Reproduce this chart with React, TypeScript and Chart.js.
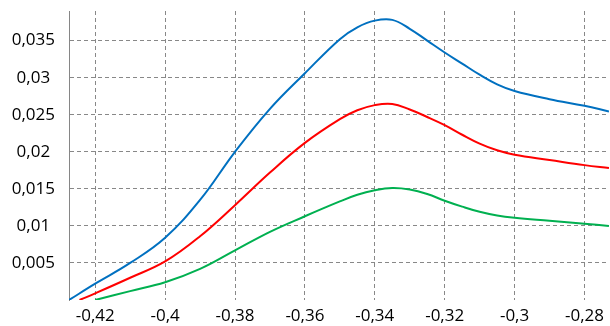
import React, { useEffect, useRef } from "react";
import { Chart, registerables } from "chart.js";

Chart.register(...registerables);

const blueX = [-0.4275, -0.42, -0.41, -0.40, -0.39, -0.38, -0.37, -0.36, -0.35, -0.345, -0.34, -0.335, -0.33, -0.325, -0.32, -0.315, -0.31, -0.305, -0.30, -0.29, -0.28, -0.273];
const blueY = [0, 0.0022, 0.0050, 0.0084, 0.0135, 0.0200, 0.0258, 0.0306, 0.0352, 0.0368, 0.0377, 0.0378, 0.0366, 0.0350, 0.0334, 0.0319, 0.0304, 0.0291, 0.0282, 0.0271, 0.0262, 0.02545];

const redX = [-0.4245, -0.42, -0.41, -0.40, -0.39, -0.38, -0.37, -0.36, -0.35, -0.345, -0.34, -0.335, -0.33, -0.325, -0.32, -0.315, -0.31, -0.305, -0.30, -0.29, -0.28, -0.273];
const redY = [0, 0.0009, 0.0030, 0.0052, 0.0086, 0.0128, 0.0172, 0.0212, 0.0244, 0.0256, 0.0263, 0.02645, 0.0257, 0.0247, 0.0236, 0.0223, 0.0211, 0.0202, 0.0196, 0.0189, 0.0182, 0.0178];

const greenX = [-0.42, -0.41, -0.40, -0.39, -0.38, -0.37, -0.36, -0.35, -0.345, -0.34, -0.335, -0.33, -0.325, -0.32, -0.315, -0.31, -0.305, -0.30, -0.29, -0.28, -0.273];
const greenY = [0, 0.0012, 0.0024, 0.0042, 0.0067, 0.0092, 0.0113, 0.0133, 0.0142, 0.0148, 0.0151, 0.0149, 0.0143, 0.0134, 0.0126, 0.0119, 0.0114, 0.0111, 0.0107, 0.0103, 0.0100];

const xTicks = [-0.42, -0.4, -0.38, -0.36, -0.34, -0.32, -0.3, -0.28];
const yTicks = [0.005, 0.01, 0.015, 0.02, 0.025, 0.03, 0.035];

const xMin = -0.4275;
const xMax = -0.273;
const yMin = 0;
const yMax = 0.039;

const fmt = (v: number) => String(Number(v.toFixed(4))).replace(".", ",");
const pts = (xs: number[], ys: number[]) => xs.map((x, i) => ({ x, y: ys[i] }));

export default function App() {
  const ref = useRef<HTMLCanvasElement | null>(null);
  useEffect(() => {
    if (!ref.current) return;
    const font = { family: "'Open Sans', sans-serif", size: 17 };
    const mk = (data: any, color: string) => ({
      data,
      borderColor: color,
      backgroundColor: color,
      borderWidth: 2,
      pointRadius: 0,
      tension: 0.4,
      fill: false,
    });
    const chart = new Chart(ref.current, {
      type: "line",
      data: {
        datasets: [
          mk(pts(blueX, blueY), "#0070C0"),
          mk(pts(redX, redY), "#FF0000"),
          mk(pts(greenX, greenY), "#00B050"),
        ],
      },
      options: {
        responsive: false,
        animation: false,
        layout: { padding: { top: 0, right: 0, left: 0, bottom: 0 } },
        plugins: { legend: { display: false }, tooltip: { enabled: false } },
        scales: {
          x: {
            type: "linear",
            min: xMin,
            max: xMax,
            afterBuildTicks: (s: any) => {
              s.ticks = xTicks.map((v) => ({ value: v }));
            },
            afterFit: (s: any) => {
              s.height = 26;
            },
            ticks: {
              color: "#000",
              font,
              padding: 6,
              maxRotation: 0,
              autoSkip: false,
              callback: (v: any) => fmt(Number(v)),
            },
            grid: {
              color: "#888888",
              lineWidth: 1,
              drawTicks: false,
            },
            border: { display: false, dash: [4, 3] },
          },
          y: {
            type: "linear",
            min: yMin,
            max: yMax,
            afterBuildTicks: (s: any) => {
              s.ticks = yTicks.map((v) => ({ value: v }));
            },
            afterFit: (s: any) => {
              s.width = 69;
              s.paddingTop = 11;
            },
            ticks: {
              color: "#000",
              font,
              padding: 14,
              crossAlign: "center",
              callback: (v: any) => fmt(Number(v)),
            },
            grid: {
              color: "#888888",
              lineWidth: 1,
              drawTicks: false,
            },
            border: { display: true, color: "#868686", width: 1, dash: [4, 3] },
          },
        },
      },
    });
    return () => chart.destroy();
  }, []);
  return (
    <div style={{ position: "fixed", left: 0, top: 0, width: 610, height: 326, background: "#fff" }}>
      <canvas ref={ref} width={610} height={326} style={{ display: "block" }} />
    </div>
  );
}
